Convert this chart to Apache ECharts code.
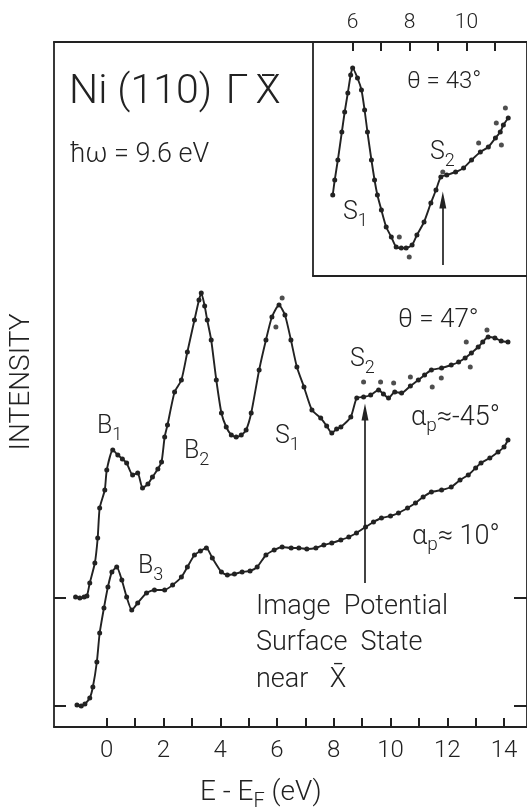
<!DOCTYPE html>
<html>
<head>
<meta charset="utf-8">
<script src="https://cdn.jsdelivr.net/npm/echarts@6/dist/echarts.min.js"></script>
<style>
  html, body { margin: 0; padding: 0; background: #fff; }
  #chart { width: 527px; height: 810px; }
</style>
</head>
<body>
<div id="chart"></div>
<script>
// Photoemission spectra, Ni(110) along Γ̄X̄, ħω = 9.6 eV
// Energies in eV relative to E_F, intensities in arbitrary units above each baseline.

// θ = 47°, α_p ≈ -45° (upper spectrum)
const upperE = [-1.10, -0.95, -0.80, -0.70, -0.60, -0.42, -0.32, -0.25, -0.07, 0.00, 0.21, 0.39, 0.55, 0.70, 0.91, 1.09, 1.26, 1.45, 1.61, 1.80, 1.93, 2.04, 2.14, 2.39, 2.63, 2.84, 3.09, 3.25, 3.33, 3.45, 3.54, 3.68, 3.86, 4.04, 4.21, 4.39, 4.56, 4.74, 4.91, 5.09, 5.37, 5.61, 5.82, 6.07, 6.28, 6.49, 6.70, 6.95, 7.23, 7.54, 7.75, 7.93, 8.10, 8.25, 8.60, 8.81, 9.05, 9.30, 9.58, 9.75, 9.93, 10.15, 10.39, 10.70, 10.98, 11.20, 11.44, 11.80, 12.14, 12.40, 12.63, 12.85, 13.09, 13.25, 13.44, 13.68, 13.90, 14.14];
const upperI = [0.1, 0.0, 0.1, 0.2, 1.5, 3.5, 6.0, 9.0, 10.8, 12.8, 14.8, 14.3, 13.9, 13.5, 12.3, 12.5, 11.0, 11.4, 12.1, 12.9, 13.6, 16.1, 17.3, 20.6, 21.8, 24.6, 27.8, 29.8, 30.5, 29.2, 27.8, 25.8, 21.8, 18.5, 17.1, 16.3, 16.1, 16.3, 16.8, 18.5, 22.8, 25.8, 28.1, 29.3, 28.3, 25.8, 23.1, 21.1, 18.8, 18.0, 17.2, 16.5, 16.9, 17.1, 18.1, 20.0, 20.1, 20.3, 20.8, 20.4, 20.0, 20.6, 20.5, 21.2, 21.8, 22.3, 22.8, 23.0, 23.3, 23.6, 24.0, 24.5, 25.1, 25.6, 26.1, 26.0, 25.7, 25.6];
const upperScatterE = [5.96, 6.18, 9.05, 9.65, 10.11, 10.70, 11.47, 11.79, 12.67, 12.81, 13.40];
const upperScatterI = [27.1, 30.0, 21.6, 21.6, 21.5, 22.1, 21.1, 22.0, 25.6, 23.1, 26.8];
const upperOffset = 10.8;

// α_p ≈ 10° (lower spectrum)
const lowerE = [-1.05, -0.90, -0.77, -0.60, -0.49, -0.35, -0.25, -0.10, 0.04, 0.18, 0.35, 0.53, 0.70, 0.88, 1.09, 1.40, 1.68, 2.04, 2.32, 2.63, 2.84, 3.09, 3.30, 3.51, 3.72, 4.04, 4.25, 4.50, 4.77, 5.05, 5.30, 5.61, 5.90, 6.18, 6.50, 6.77, 7.05, 7.37, 7.65, 7.93, 8.25, 8.53, 8.80, 9.12, 9.40, 9.68, 10.00, 10.28, 10.60, 10.88, 11.15, 11.44, 11.80, 12.14, 12.45, 12.74, 13.00, 13.19, 13.50, 13.79, 14.00, 14.14];
const lowerI = [0.1, 0.0, 0.2, 0.8, 1.9, 4.4, 7.3, 9.8, 11.9, 13.4, 13.9, 12.6, 10.9, 9.6, 10.3, 11.3, 11.6, 11.6, 12.1, 12.9, 13.9, 15.1, 15.5, 15.8, 14.8, 13.4, 13.1, 13.2, 13.4, 13.5, 13.9, 15.1, 15.6, 15.9, 15.8, 15.8, 15.7, 15.8, 16.1, 16.3, 16.6, 16.9, 17.3, 17.9, 18.4, 18.8, 19.0, 19.3, 19.8, 20.3, 20.9, 21.4, 21.6, 21.9, 22.6, 23.1, 23.8, 24.3, 24.8, 25.4, 25.9, 26.6];

// θ = 43° (inset)
const insetE = [5.30, 5.37, 5.48, 5.62, 5.72, 5.83, 5.93, 6.00, 6.17, 6.31, 6.42, 6.52, 6.66, 6.77, 6.87, 7.01, 7.18, 7.36, 7.53, 7.71, 7.88, 8.09, 8.26, 8.51, 8.75, 8.93, 9.10, 9.31, 9.62, 9.90, 10.18, 10.49, 10.77, 11.02, 11.19, 11.30, 11.47];
const insetI = [8.1, 9.6, 11.6, 14.4, 16.4, 18.3, 20.1, 20.8, 19.8, 18.6, 16.6, 14.4, 11.6, 9.6, 8.1, 6.6, 4.9, 3.9, 2.9, 2.8, 2.8, 3.1, 4.1, 5.4, 7.3, 8.6, 9.9, 10.1, 10.4, 10.8, 11.6, 12.4, 12.9, 13.8, 14.4, 15.1, 15.8];
const insetScatterE = [7.64, 7.99, 9.17, 10.43, 11.05, 11.23, 11.37];
const insetScatterI = [3.9, 1.9, 10.4, 13.3, 15.3, 13.1, 16.8];

// axis ticks and labels
const mainTicks = [0, 1, 2, 3, 4, 5, 6, 7, 8, 9, 10, 11, 12, 13, 14];
const mainTickLabels = [0, 2, 4, 6, 8, 10, 12, 14];
const insetTicks = [6, 7, 8, 9, 10, 11];
const insetTickLabels = [6, 8, 10];
const baselineTicks = [0, upperOffset];

// image-potential state markers: energy, arrow foot, arrow tip
const mainArrow = [9.1, 12.3, 29.4];
const insetArrow = [9.17, 1.1, 7.6];

// axis ranges
const mainX = [-1.86, 14.81];
const mainY = [-2.1, 66.4];
const insetX = [4.606, 12.13];
const insetY = [0, 23.4];

const INK = '#222222';
const FONT = 'Roboto';

const pairs = (xs, ys, off) => xs.map((x, i) => [x, ys[i] + (off || 0)]);

function label(text, x, y, size, align) {
  return {
    type: 'text',
    x: x, y: y,
    z: 100,
    style: {
      text: text,
      fill: INK,
      fontFamily: FONT,
      fontWeight: 300,
      fontSize: size,
      lineHeight: Math.round(size * 1.35),
      align: align || 'left', textAlign: align || 'left',
      verticalAlign: 'middle', textVerticalAlign: 'middle',
      rich: {
        sub: {
          fontFamily: FONT,
          fontWeight: 300,
          fontSize: Math.round(size * 0.72),
          fill: INK,
          verticalAlign: 'bottom'
        }
      }
    }
  };
}

// overbar drawn as a macron glyph above a letter
function bar(x, y, size) {
  return label('\u00af', x, y, size, 'center');
}

const lineStyleCommon = { color: INK, width: 1.9 };
const dotStyle = { color: INK };

function spectrum(data, xi, yi, extra) {
  return Object.assign({
    type: 'line',
    xAxisIndex: xi, yAxisIndex: yi,
    data: data,
    smooth: 0.2,
    symbol: 'circle',
    symbolSize: 5,
    showSymbol: true,
    lineStyle: lineStyleCommon,
    itemStyle: dotStyle,
    silent: true
  }, extra || {});
}

function arrowMark(a) {
  return {
    silent: true,
    symbol: ['none', 'triangle'],
    symbolSize: [7, 17],
    lineStyle: { color: INK, width: 1.7, type: 'solid' },
    label: { show: false },
    data: [[{ coord: [a[0], a[1]] }, { coord: [a[0], a[2]] }]]
  };
}

const chart = echarts.init(document.getElementById('chart'), null, { renderer: 'canvas' });

const axisLineStyle = { color: INK, width: 1.8 };
const tickStyle = { color: INK, width: 2 };

// frame edge drawn by an axis line only
function edgeAxis(gridIndex, position, range) {
  return {
    gridIndex: gridIndex, type: 'value', position: position, min: range[0], max: range[1],
    axisLine: { show: true, onZero: false, lineStyle: axisLineStyle },
    axisTick: { show: false }, axisLabel: { show: false }, splitLine: { show: false }
  };
}

chart.setOption({
  animation: false,
  backgroundColor: '#ffffff',
  grid: [
    { left: 54, top: 42, right: -2, bottom: 83, show: false },
    { left: 313, top: 42, right: -2, bottom: 534, show: false }
  ],
  xAxis: [
    {
      gridIndex: 0, type: 'value', position: 'bottom', min: mainX[0], max: mainX[1],
      axisLine: { show: true, onZero: false, lineStyle: axisLineStyle },
      axisTick: { show: true, inside: true, length: 9, customValues: mainTicks, lineStyle: tickStyle },
      axisLabel: { show: true, customValues: mainTickLabels, margin: 12, color: INK, fontFamily: FONT, fontWeight: 300, fontSize: 24 },
      splitLine: { show: false }
    },
    {
      gridIndex: 1, type: 'value', position: 'top', min: insetX[0], max: insetX[1],
      axisLine: { show: true, onZero: false, lineStyle: axisLineStyle },
      axisTick: { show: true, inside: true, length: 9, customValues: insetTicks, lineStyle: tickStyle },
      axisLabel: { show: true, customValues: insetTickLabels, margin: 9, color: INK, fontFamily: FONT, fontWeight: 300, fontSize: 21 },
      splitLine: { show: false }
    },
    edgeAxis(0, 'top', mainX),
    edgeAxis(1, 'bottom', insetX)
  ],
  yAxis: [
    {
      gridIndex: 0, type: 'value', position: 'left', min: mainY[0], max: mainY[1],
      axisLine: { show: true, onZero: false, lineStyle: axisLineStyle },
      axisTick: { show: true, inside: true, length: 12, customValues: baselineTicks, lineStyle: tickStyle },
      axisLabel: { show: false },
      splitLine: { show: false }
    },
    {
      gridIndex: 0, type: 'value', position: 'right', min: mainY[0], max: mainY[1],
      axisLine: { show: true, onZero: false, lineStyle: axisLineStyle },
      axisTick: { show: true, inside: true, length: 13, customValues: baselineTicks, lineStyle: tickStyle },
      axisLabel: { show: false },
      splitLine: { show: false }
    },
    {
      gridIndex: 1, type: 'value', position: 'left', min: insetY[0], max: insetY[1],
      axisLine: { show: true, onZero: false, lineStyle: axisLineStyle },
      axisTick: { show: false },
      axisLabel: { show: false },
      splitLine: { show: false }
    }
  ],
  series: [
    spectrum(pairs(upperE, upperI, upperOffset), 0, 0, { markLine: arrowMark(mainArrow) }),
    {
      type: 'scatter', xAxisIndex: 0, yAxisIndex: 0, silent: true,
      data: pairs(upperScatterE, upperScatterI, upperOffset),
      symbolSize: 5, itemStyle: dotStyle
    },
    spectrum(pairs(lowerE, lowerI), 0, 0),
    spectrum(pairs(insetE, insetI), 1, 2, { markLine: arrowMark(insetArrow), z: 5 }),
    {
      type: 'scatter', xAxisIndex: 1, yAxisIndex: 2, silent: true, z: 5,
      data: pairs(insetScatterE, insetScatterI),
      symbolSize: 5, itemStyle: dotStyle
    }
  ],
  graphic: [
    label('Ni (110)', 69, 93, 41),
    label('\u0393', 237, 93, 41, 'center'),
    label('X', 268, 93, 41, 'center'),
    bar(237, 93, 41),
    bar(268, 93, 41),
    label('\u0127\u03c9 = 9.6 eV', 70, 155, 27),
    label('\u03b8 = 43\u00b0', 407, 82, 24),
    label('S{sub|2}', 430, 153, 25),
    label('S{sub|1}', 343, 213, 25),
    label('\u03b8 = 47\u00b0', 398, 320, 26),
    label('S{sub|2}', 350, 360, 25),
    label('\u03b1{sub|p}\u2248-45\u00b0', 411, 418, 27),
    label('B{sub|1}', 97, 427, 25),
    label('B{sub|2}', 184, 452, 25),
    label('S{sub|1}', 275, 437, 25),
    label('B{sub|3}', 138, 567, 25),
    label('\u03b1{sub|p}\u2248 10\u00b0', 412, 537, 27),
    label('Image  Potential', 256, 607, 27),
    label('Surface  State', 256, 643, 27),
    label('near', 256, 680, 27),
    label('X', 338, 680, 27, 'center'),
    bar(338, 676, 27),
    label('E - E{sub|F} (eV)', 200, 793, 28),
    {
      type: 'text', x: 22, y: 382, rotation: Math.PI / 2, z: 100,
      style: {
        text: 'INTENSITY', fill: INK, fontFamily: FONT, fontWeight: 300, fontSize: 28,
        align: 'center', textAlign: 'center', verticalAlign: 'middle', textVerticalAlign: 'middle'
      }
    }
  ]
});
</script>
</body>
</html>
